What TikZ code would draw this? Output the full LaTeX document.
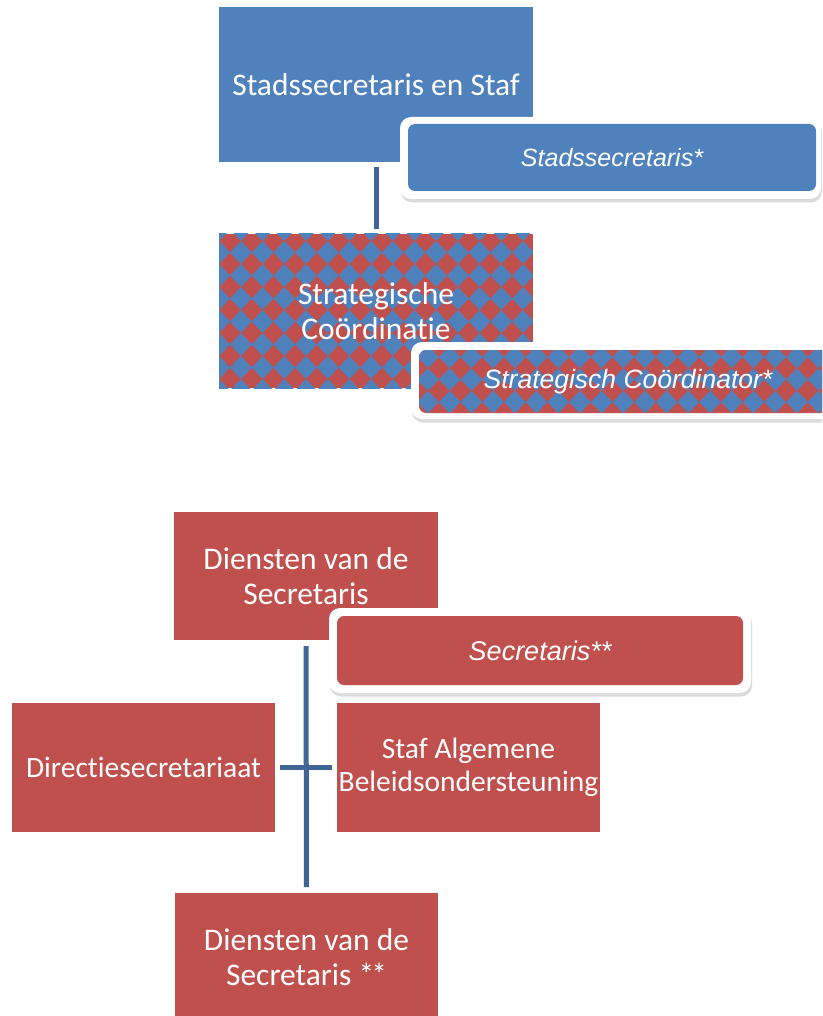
\documentclass[tikz,border=0pt]{standalone}
\usepackage{fontspec}
\setmainfont{Carlito}[Ligatures={NoCommon}]
\newfontfamily\arialf{Liberation Sans}
\usetikzlibrary{shadows}
\definecolor{cblue}{RGB}{79,129,189}
\definecolor{cred}{RGB}{192,80,77}
\definecolor{cline}{RGB}{62,101,150}
% blue diamonds: #1,#2 lattice origin, #3 x period, #8 y period, #4..#5 i range, #6..#7 j range
\newcommand\mydmnds[8]{%
  \foreach \i in {#4,...,#5}{\foreach \j in {#6,...,#7}{%
    \fill[cblue] ({#1+#3*\i-#3/2},{#2+#8*\j}) -- ({#1+#3*\i},{#2+#8*\j-#8/2})
      -- ({#1+#3*\i+#3/2},{#2+#8*\j}) -- ({#1+#3*\i},{#2+#8*\j+#8/2}) -- cycle;}}}
\begin{document}
\begin{tikzpicture}[x=1pt,y=-1pt,
  box/.style={inner sep=0pt,outer sep=0pt,anchor=north west,text=white,align=center},
  bigf/.style={font=\fontsize{31.5}{35}\selectfont},
  midf/.style={font=\fontsize{29.5}{33}\selectfont},
  calloutframe/.style={fill=white,rounded corners=11pt,inner sep=0pt,outer sep=0pt,anchor=north west,
    drop shadow={shadow xshift=1pt,shadow yshift=-3.5pt,opacity=.28}},
  calloutin/.style={rounded corners=7pt,inner sep=0pt,outer sep=0pt,anchor=north west,text=white},
  itf/.style={font=\arialf\itshape\fontsize{#1}{30}\selectfont},
  conn/.style={draw=cline,line width=5pt}]
\useasboundingbox (0,0) rectangle (822,1016);
\clip (0,0) rectangle (822,1016);
\fill[white] (0,0) rectangle (822,1016);

% top part
\node[box,bigf,fill=cblue,minimum width=314pt,minimum height=155pt] (ss) at (219,7) {Stadssecretaris en Staf};
\node[calloutframe,minimum width=421pt,minimum height=82pt] (f1) at (400,117) {};
\node[calloutin,itf=25,fill=cblue,minimum width=408pt,minimum height=67pt] (c1) at (408,124) {Stadssecretaris*};

\fill[cred] (219,234) rectangle (533,388);
\begin{scope}
  \clip (219,234) rectangle (533,388);
  \mydmnds{219.2}{252.5}{21.7}{-1}{16}{-1}{7}{23}
\end{scope}
\node[box,bigf,minimum width=314pt,minimum height=154pt] (sc) at (219,234) {Strategische\\Coördinatie};

\draw[conn,shorten <=5pt,shorten >=5pt] (ss.south) -- (sc.north);

\node[calloutframe,minimum width=432pt,minimum height=77pt] (f2) at (411,342) {};
\fill[cred,rounded corners=7pt] (419,350) rectangle (837,413);
\begin{scope}
  \clip[rounded corners=7pt] (419,350) rectangle (837,413);
  \mydmnds{428}{357}{21.7}{-1}{20}{-1}{3}{22.5}
\end{scope}
\node[calloutin,itf=26.5,minimum width=418pt,minimum height=63pt] (c2) at (419,350) {Strategisch Coördinator*};

% bottom part
\node[box,bigf,fill=cred,minimum width=264pt,minimum height=128pt] (ds) at (174,512) {Diensten van de\\Secretaris};
\node[calloutframe,minimum width=422pt,minimum height=85pt] (f3) at (329,608) {};
\node[calloutin,itf=27,fill=cred,minimum width=406pt,minimum height=69pt] (c3) at (337,616) {Secretaris**};

\node[box,midf,fill=cred,minimum width=263pt,minimum height=129pt] (dir) at (12,703) {Directiesecretariaat};
\node[box,midf,fill=cred,minimum width=263pt,minimum height=129pt] (staf) at (337,703) {Staf Algemene\\Beleidsondersteuning};
\node[box,bigf,fill=cred,minimum width=263pt,minimum height=129pt] (ds2) at (175,893) {Diensten van de\\Secretaris *\kern-3pt*};

\draw[conn,shorten <=6pt,shorten >=6pt] (ds.south) -- (ds2.north);
\draw[conn,shorten <=5pt,shorten >=5pt] (dir.east) -- (staf.west);
\end{tikzpicture}
\end{document}
